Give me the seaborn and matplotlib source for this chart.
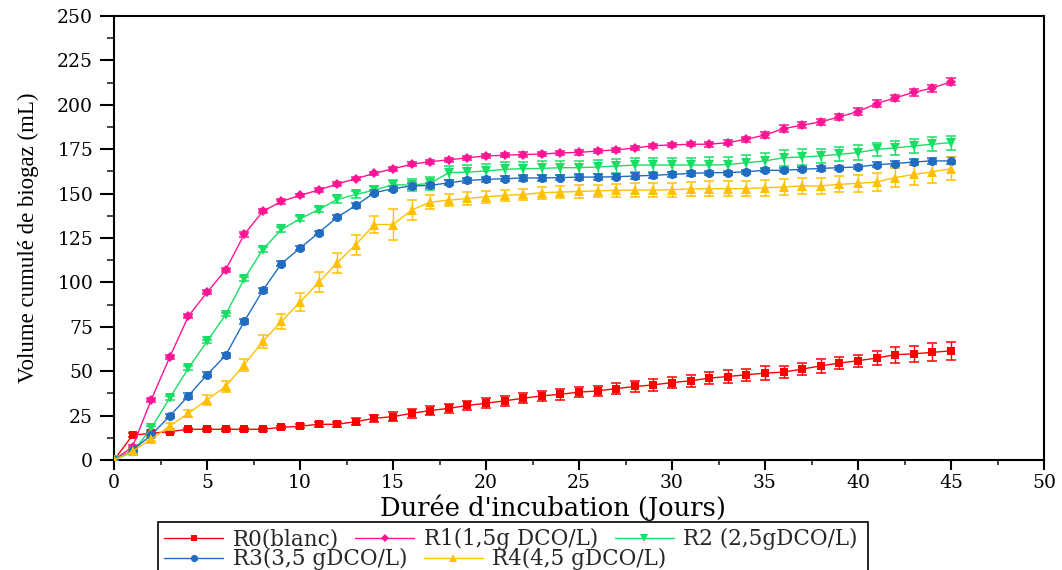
import matplotlib
matplotlib.use("Agg")
import matplotlib.pyplot as plt
import numpy as np
import pandas as pd
import seaborn as sns
from matplotlib.ticker import MultipleLocator
from matplotlib.patches import Rectangle
from matplotlib.lines import Line2D

# Incubation time (days)
days = list(range(46))

labels = ["R0(blanc)", "R1(1,5g DCO/L)", "R2 (2,5gDCO/L)",
          "R3(3,5 gDCO/L)", "R4(4,5 gDCO/L)"]

# Cumulative biogas volume (mL), mean per reactor
r0_mean = [0, 14.0, 15.0, 16.0, 17.3, 17.3, 17.3, 17.3, 17.3, 18.4, 19.0, 20.1, 20.1, 21.6, 23.5, 24.4,
           26.3, 27.8, 29.1, 30.7, 32.0, 33.3, 34.8, 36.1, 37.0, 38.2, 38.9, 40.2, 41.4, 42.3, 43.6, 44.6,
           46.1, 47.0, 48.0, 48.9, 49.5, 51.2, 53.0, 54.6, 55.9, 57.4, 59.3, 59.8, 60.6, 61.5]
r1_mean = [0, 7.5, 33.9, 58.0, 81.0, 94.4, 107.0, 127.0, 140.0, 145.6, 149.0, 152.0, 155.4, 158.4, 161.4, 164.0,
           166.5, 168.0, 169.0, 170.2, 171.2, 171.6, 172.0, 172.3, 172.9, 173.2, 174.0, 174.6, 175.7, 177.0, 177.4, 177.8,
           177.8, 178.7, 180.6, 183.0, 186.6, 188.5, 190.4, 193.2, 196.2, 200.7, 203.9, 207.0, 209.4, 213.0]
r2_mean = [0, 4.5, 17.9, 35.0, 51.7, 66.8, 81.8, 102.0, 118.5, 129.8, 135.8, 141.0, 146.7, 149.5, 152.0, 155.0,
           154.8, 155.8, 161.8, 162.1, 162.7, 163.7, 164.0, 164.2, 164.6, 164.6, 165.0, 165.5, 166.1, 166.1, 166.1, 166.1,
           166.1, 166.3, 167.4, 168.4, 170.2, 170.6, 171.2, 172.1, 173.1, 174.9, 175.7, 176.8, 177.8, 178.7]
r3_mean = [0, 5.5, 14.1, 24.8, 36.1, 48.0, 58.9, 78.0, 95.5, 110.6, 119.3, 127.9, 136.7, 143.3, 150.5, 152.8,
           154.3, 154.6, 156.1, 157.4, 158.0, 158.4, 158.8, 158.8, 159.0, 159.3, 159.3, 159.5, 159.9, 160.3, 160.8, 161.4,
           161.8, 161.8, 162.3, 163.1, 163.1, 163.7, 164.2, 164.6, 165.0, 166.3, 166.9, 167.8, 168.4, 168.4]
r4_mean = [0, 5.0, 11.7, 19.2, 26.3, 33.9, 41.4, 53.6, 66.8, 78.0, 88.8, 100.0, 111.0, 121.3, 132.6, 132.6,
           140.7, 145.2, 146.3, 147.3, 148.2, 149.0, 149.5, 150.5, 150.9, 151.2, 151.6, 151.8, 152.0, 152.0, 152.2, 152.6,
           152.8, 152.8, 152.8, 153.3, 153.7, 154.3, 154.3, 155.2, 155.8, 156.5, 159.0, 160.8, 162.3, 164.0]

# Standard deviations
r0_err = [0, 1.0, 1.0, 1.0, 0.8, 0.8, 0.8, 0.8, 0.8, 1.0, 1.2, 1.5, 1.5, 1.8, 2.0, 2.5,
          2.5, 2.5, 2.5, 2.6, 2.7, 2.8, 2.8, 3.0, 3.0, 3.0, 3.0, 3.0, 3.2, 3.2, 3.3, 3.3,
          3.3, 3.5, 3.5, 3.8, 3.5, 3.5, 3.8, 3.5, 3.5, 4.0, 4.5, 4.5, 5.0, 5.2]
r1_err = [0, 1.0, 1.2, 1.2, 1.2, 1.2, 1.2, 1.5, 1.2, 1.2, 1.0, 1.0, 1.0, 1.0, 1.0, 1.0,
          1.2, 1.2, 1.2, 1.2, 1.2, 1.2, 1.2, 1.2, 1.2, 1.2, 1.2, 1.2, 1.2, 1.2, 1.2, 1.2,
          1.5, 1.5, 1.5, 1.5, 1.8, 1.8, 1.8, 1.8, 1.8, 1.8, 1.8, 1.8, 2.0, 2.0]
r2_err = [0, 1.0, 1.0, 1.0, 1.0, 1.0, 1.0, 1.0, 1.2, 1.2, 1.5, 1.5, 2.0, 2.0, 2.5, 2.8,
          3.5, 3.5, 4.0, 4.0, 4.0, 4.0, 4.0, 4.0, 4.0, 4.0, 4.0, 4.0, 4.0, 4.0, 4.0, 4.0,
          4.5, 4.5, 4.5, 4.5, 4.5, 4.5, 4.0, 4.0, 4.0, 3.8, 3.8, 3.8, 3.8, 4.0]
r3_err = [0, 0.8, 1.2, 1.2, 1.5, 1.5, 1.5, 1.5, 1.2, 1.2, 1.2, 1.2, 1.2, 1.2, 1.5, 1.5,
          1.5, 1.5, 1.5, 1.5, 1.5, 1.5, 1.5, 1.5, 1.5, 1.5, 1.5, 1.5, 1.5, 1.5, 1.5, 1.5,
          1.2, 1.2, 1.2, 1.2, 1.2, 1.2, 1.2, 1.2, 1.2, 1.5, 1.5, 1.5, 1.8, 2.0]
r4_err = [0, 1.0, 1.2, 1.5, 2.0, 2.8, 3.3, 3.5, 3.8, 4.4, 5.0, 5.6, 5.5, 5.6, 5.0, 8.5,
          5.6, 4.0, 3.5, 3.5, 3.5, 3.3, 3.3, 3.3, 3.5, 3.5, 3.5, 3.8, 3.8, 4.0, 4.0, 4.0,
          4.4, 4.4, 4.4, 4.4, 4.4, 4.4, 4.4, 4.5, 4.8, 5.0, 5.5, 6.0, 6.5, 6.6]

means = [r0_mean, r1_mean, r2_mean, r3_mean, r4_mean]
errs = [r0_err, r1_err, r2_err, r3_err, r4_err]
colors = ["#FF0000", "#FF1493", "#19DE66", "#1F6CC1", "#FFC000"]
marker_styles = ["s", "D", "v", "o", "^"]
marker_sizes = [6.0, 5.5, 7.5, 6.5, 7.5]

sns.set_theme(style="ticks")
plt.rcParams["font.family"] = ["DejaVu Serif"]
plt.rcParams["axes.edgecolor"] = "black"

fig = plt.figure(figsize=(10.62, 5.70), dpi=100)
ax = fig.add_axes([114 / 1062, 1 - 460 / 570, 930 / 1062, 444 / 570])

for name, m, e, c, mk, ms in zip(labels, means, errs, colors, marker_styles, marker_sizes):
    ax.errorbar(days, m, yerr=e, fmt="none", ecolor=c, elinewidth=1.0,
                capsize=3.8, capthick=1.1, zorder=2)
    sns.lineplot(x=days, y=m, color=c, marker=mk, markersize=ms,
                 markeredgewidth=0, linewidth=1.0, ax=ax, zorder=3)

ax.set_xlim(0, 50)
ax.set_ylim(0, 250)
ax.xaxis.set_major_locator(MultipleLocator(5))
ax.xaxis.set_minor_locator(MultipleLocator(2.5))
ax.yaxis.set_major_locator(MultipleLocator(25))
ax.yaxis.set_minor_locator(MultipleLocator(12.5))

for s in ax.spines.values():
    s.set_visible(True)
    s.set_linewidth(1.5)
    s.set_color("black")

ax.tick_params(axis="y", which="major", direction="out", length=10, width=1.5,
               labelsize=13.5, pad=5, colors="black")
ax.tick_params(axis="y", which="minor", direction="out", length=5, width=1.2)
ax.tick_params(axis="x", which="major", direction="out", length=7, width=1.5,
               labelsize=13.5, pad=3, colors="black")
ax.tick_params(axis="x", which="minor", direction="out", length=3.5, width=1.2)

ax.set_xlabel("Durée d'incubation (Jours)", fontsize=18.5, color="black")
ax.xaxis.set_label_coords(0.4715, -0.078)
ax.set_ylabel("Volume cumulé de biogaz (mL)", fontsize=16.5, color="black",
              family=["Liberation Serif", "DejaVu Serif"])
ax.yaxis.set_label_coords(-0.081, 0.5)

# Legend: two rows laid out as a flowing list inside one frame
handles = [Line2D([0], [0], color=c, marker=mk, markersize=ms * 0.8, markeredgewidth=0, linewidth=1.0)
           for c, mk, ms in zip(colors, marker_styles, marker_sizes)]
leg_kw = dict(frameon=False, borderpad=0, borderaxespad=0, handlelength=2.75,
              handletextpad=0.45, columnspacing=0.75, fontsize=15.5, numpoints=1,
              loc="center left")
row1 = fig.legend(handles[:3], labels[:3], ncol=3,
                  bbox_to_anchor=(164 / 1062, 1 - 539 / 570), **leg_kw)
row2 = fig.legend(handles[3:], labels[3:], ncol=2,
                  bbox_to_anchor=(164 / 1062, 1 - 559 / 570), **leg_kw)

fig.canvas.draw()
renderer = fig.canvas.get_renderer()
b1 = row1.get_window_extent(renderer)
b2 = row2.get_window_extent(renderer)
W, H = fig.bbox.width, fig.bbox.height
x0 = min(b1.x0, b2.x0) - 6
x1 = max(b1.x1, b2.x1) + 10
top = H - 522
fig.add_artist(Rectangle((x0 / W, -0.1), (x1 - x0) / W, top / H + 0.1,
                         transform=fig.transFigure, fill=False,
                         edgecolor="black", linewidth=1.2))

fig.savefig("out.png", dpi=100)
